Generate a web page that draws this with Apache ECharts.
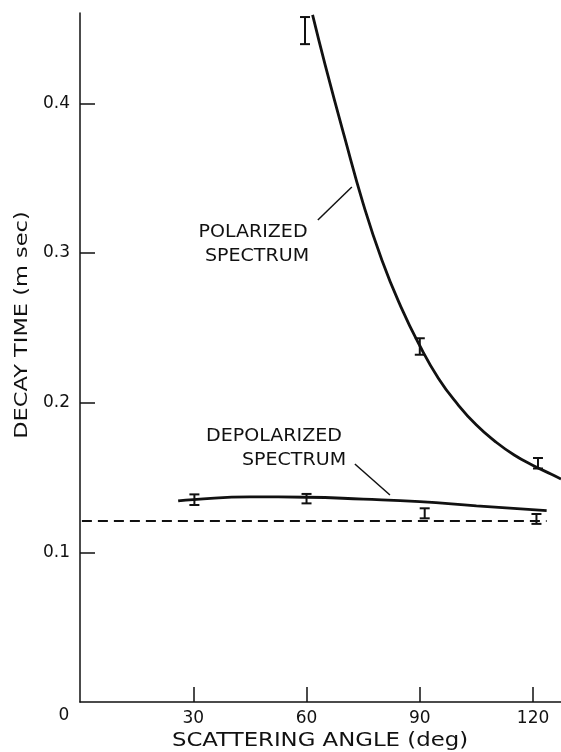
<!DOCTYPE html>
<html>
<head>
<meta charset="utf-8">
<script src="https://cdn.jsdelivr.net/npm/echarts@6/dist/echarts.min.js"></script>
<style>
    html, body { margin: 0; padding: 0; background: #fff; }
    #chart { width: 561px; height: 752px; }
</style>
</head>
<body>
<div id="chart"></div>
<script>
// 数据：散射角 (deg) 与衰减时间 (msec)
var xTicks = [30, 60, 90, 120];
var yTicks = [0.1, 0.2, 0.3, 0.4];

// 偏振谱曲线
var polX = [61.6, 65, 70, 75, 80, 85, 90, 95, 100, 105, 110, 115, 120, 125, 127.4];
var polY = [0.459, 0.425, 0.378, 0.333, 0.295, 0.264, 0.238, 0.216, 0.199, 0.185, 0.174, 0.165, 0.158, 0.152, 0.149];
// 偏振谱误差棒
var polErrX = [59.6, 90, 121.3];
var polErrLow = [0.4395, 0.232, 0.156];
var polErrHigh = [0.4576, 0.243, 0.163];

// 退偏振谱曲线
var depX = [26, 30, 45, 60, 75, 90, 105, 123.6];
var depY = [0.1343, 0.1352, 0.137, 0.1368, 0.1355, 0.1338, 0.131, 0.1278];
// 退偏振谱误差棒
var depErrX = [30.3, 60.0, 91.3, 120.9];
var depErrLow = [0.1316, 0.1327, 0.1227, 0.119];
var depErrHigh = [0.1387, 0.139, 0.1294, 0.1256];

// 虚线
var dashX = [0.5, 123.6];
var dashY = [0.1209, 0.1209];

// 标注引线
var polLeadX = [63.0, 72.0];
var polLeadY = [0.322, 0.344];
var depLeadX = [72.8, 82.1];
var depLeadY = [0.159, 0.1383];

var ink = '#111';
var font = 'DejaVu Sans';

function zip(xs, ys) {
    return xs.map(function (x, i) { return [x, ys[i]]; });
}
function errData(xs, lo, hi) {
    return xs.map(function (x, i) { return [x, lo[i], hi[i]]; });
}
function renderErr(params, api) {
    var x = api.value(0);
    var p1 = api.coord([x, api.value(1)]);
    var p2 = api.coord([x, api.value(2)]);
    var w = 5;
    var st = { stroke: ink, lineWidth: 2 };
    return {
        type: 'group',
        children: [
            { type: 'line', shape: { x1: p1[0], y1: p1[1], x2: p2[0], y2: p2[1] }, style: st },
            { type: 'line', shape: { x1: p1[0] - w, y1: p1[1], x2: p1[0] + w, y2: p1[1] }, style: st },
            { type: 'line', shape: { x1: p2[0] - w, y1: p2[1], x2: p2[0] + w, y2: p2[1] }, style: st }
        ]
    };
}
// 宽字距文字（横向拉伸）
function label(txt, x, y, size, sx, rot) {
    return {
        type: 'text', x: x, y: y, scaleX: sx, rotation: rot || 0,
        style: { text: txt, fill: ink, font: size + 'px ' + font, align: 'center', verticalAlign: 'middle' }
    };
}

var myChart = echarts.init(document.getElementById('chart'));
myChart.setOption({
    animation: false,
    grid: { left: 80, right: 0, top: 13, bottom: 50 },
    xAxis: {
        type: 'value',
        min: 0,
        max: 127.4,
        axisLine: { lineStyle: { color: ink, width: 1.5 } },
        axisTick: { inside: true, length: 15, customValues: xTicks, lineStyle: { color: ink, width: 1.5 } },
        axisLabel: { customValues: xTicks, color: ink, fontFamily: font, fontSize: 17, margin: 8 },
        splitLine: { show: false }
    },
    yAxis: {
        type: 'value',
        min: 0,
        max: 0.4603,
        axisLine: { show: true, lineStyle: { color: ink, width: 1.5 } },
        axisTick: { show: true, inside: true, length: 15, customValues: yTicks, lineStyle: { color: ink, width: 1.5 } },
        axisLabel: { customValues: yTicks, color: ink, fontFamily: font, fontSize: 17, margin: 10 },
        splitLine: { show: false }
    },
    graphic: [
        label('0', 64, 716, 17, 1),
        label('SCATTERING ANGLE (deg)', 320, 741, 19, 1.2),
        label('DECAY TIME (m sec)', 22, 325, 18, 1.25, Math.PI / 2),
        label('POLARIZED', 253, 233, 17, 1.12),
        label('SPECTRUM', 257, 257, 17, 1.12),
        label('DEPOLARIZED', 274, 437, 17, 1.12),
        label('SPECTRUM', 294, 461, 17, 1.12)
    ],
    series: [
        {
            type: 'line', data: zip(polX, polY), smooth: true, showSymbol: false,
            lineStyle: { color: ink, width: 2.8 }
        },
        {
            type: 'line', data: zip(depX, depY), smooth: true, showSymbol: false,
            lineStyle: { color: ink, width: 2.8 }
        },
        {
            type: 'line', data: zip(dashX, dashY), showSymbol: false,
            lineStyle: { color: ink, width: 2, type: [10, 6] }
        },
        {
            type: 'line', data: zip(polLeadX, polLeadY), showSymbol: false,
            lineStyle: { color: ink, width: 1.5 }
        },
        {
            type: 'line', data: zip(depLeadX, depLeadY), showSymbol: false,
            lineStyle: { color: ink, width: 1.5 }
        },
        {
            type: 'custom', data: errData(polErrX, polErrLow, polErrHigh),
            encode: { x: 0, y: [1, 2] }, renderItem: renderErr
        },
        {
            type: 'custom', data: errData(depErrX, depErrLow, depErrHigh),
            encode: { x: 0, y: [1, 2] }, renderItem: renderErr
        }
    ]
});
</script>
</body>
</html>
